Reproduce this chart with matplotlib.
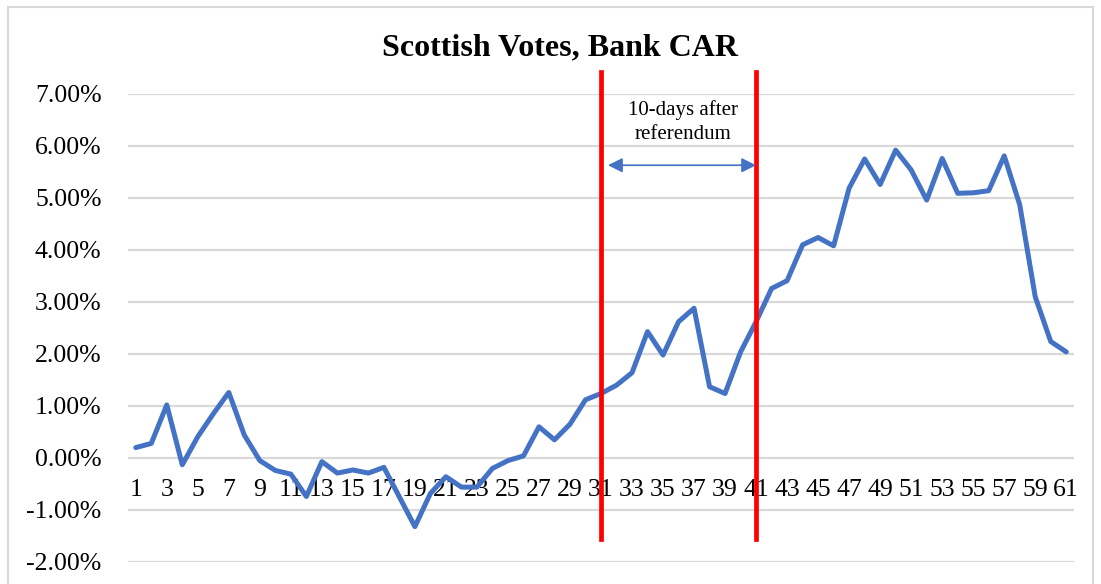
import matplotlib
matplotlib.use("Agg")
import matplotlib.pyplot as plt
from matplotlib.patches import Rectangle
from matplotlib.ticker import FuncFormatter, MultipleLocator

# Cumulative abnormal returns (%) for banks around the Scottish referendum
days = list(range(1, 62))
car_pct = [
    0.20, 0.28, 1.02, -0.13, 0.41, 0.85, 1.26, 0.44, -0.05, -0.24,
    -0.31, -0.74, -0.07, -0.29, -0.23, -0.29, -0.18, -0.75, -1.32, -0.68,
    -0.36, -0.56, -0.56, -0.20, -0.05, 0.04, 0.60, 0.35, 0.65, 1.12,
    1.24, 1.40, 1.64, 2.43, 1.98, 2.62, 2.88, 1.37, 1.24, 2.04,
    2.62, 3.26, 3.41, 4.10, 4.24, 4.08, 5.19, 5.75, 5.26, 5.92,
    5.54, 4.96, 5.76, 5.09, 5.10, 5.14, 5.81, 4.87, 3.10, 2.24,
    2.04,
]
event_days = [31, 41]
window_label = "10-days after\nreferendum"
title = "Scottish Votes, Bank CAR"

BLUE = "#4472C4"
RED = "#FF0000"
GRID = "#D9D9D9"
SERIF = ["Liberation Serif", "DejaVu Serif"]

plt.rcParams["font.family"] = SERIF

fig = plt.figure(figsize=(11.01, 5.84), dpi=100)
W, H = 1101, 584
ax = fig.add_axes([128 / W, 1 - 562 / H, (1074 - 128) / W, (562 - 94) / H])

# chart frame
fig.patches.append(Rectangle((8 / W, -0.05), (1093 - 8) / W, 1 - 7 / H + 0.05,
                             transform=fig.transFigure, fill=False,
                             edgecolor=GRID, linewidth=1.5))

ax.plot(days, car_pct, color=BLUE, linewidth=3.6, solid_joinstyle="round",
        solid_capstyle="round", zorder=3)

ax.set_xlim(0.5, 61.5)
ax.set_ylim(-2, 7)
ax.yaxis.set_major_locator(MultipleLocator(1))
ax.yaxis.set_major_formatter(FuncFormatter(lambda v, _: f"{v:.2f}%"))
ax.grid(axis="y", color=GRID, linewidth=1.6, zorder=0)
ax.set_axisbelow(True)

ax.set_xticks(days[::2])
ax.set_xticklabels([str(d) for d in days[::2]])
ax.spines["bottom"].set_position(("data", 0))
for s in ["top", "right", "left", "bottom"]:
    ax.spines[s].set_color("none")
ax.tick_params(axis="x", length=0, pad=15, labelsize=18.5)
ax.tick_params(axis="y", length=0, pad=19, labelsize=18.5)

# event window markers
for d in event_days:
    ax.plot([d, d], [-1.56, 7.42], color=RED, linewidth=3.4, clip_on=False,
            zorder=4)

ax.annotate("", xy=(event_days[1], 5.63), xytext=(event_days[0] + 0.45, 5.63),
            arrowprops=dict(arrowstyle="<|-|>", color=BLUE, lw=1.2,
                            mutation_scale=22, shrinkA=0, shrinkB=0),
            zorder=5)
ax.text((event_days[0] + event_days[1]) / 2 + 0.3, 6.46, window_label,
        ha="center", va="center", fontsize=15, linespacing=1.3, zorder=5)

fig.text(560 / W, 1 - 48 / H, title, ha="center", va="center",
         fontsize=23, fontweight="bold")

fig.savefig("out.png", dpi=100, facecolor="white")
